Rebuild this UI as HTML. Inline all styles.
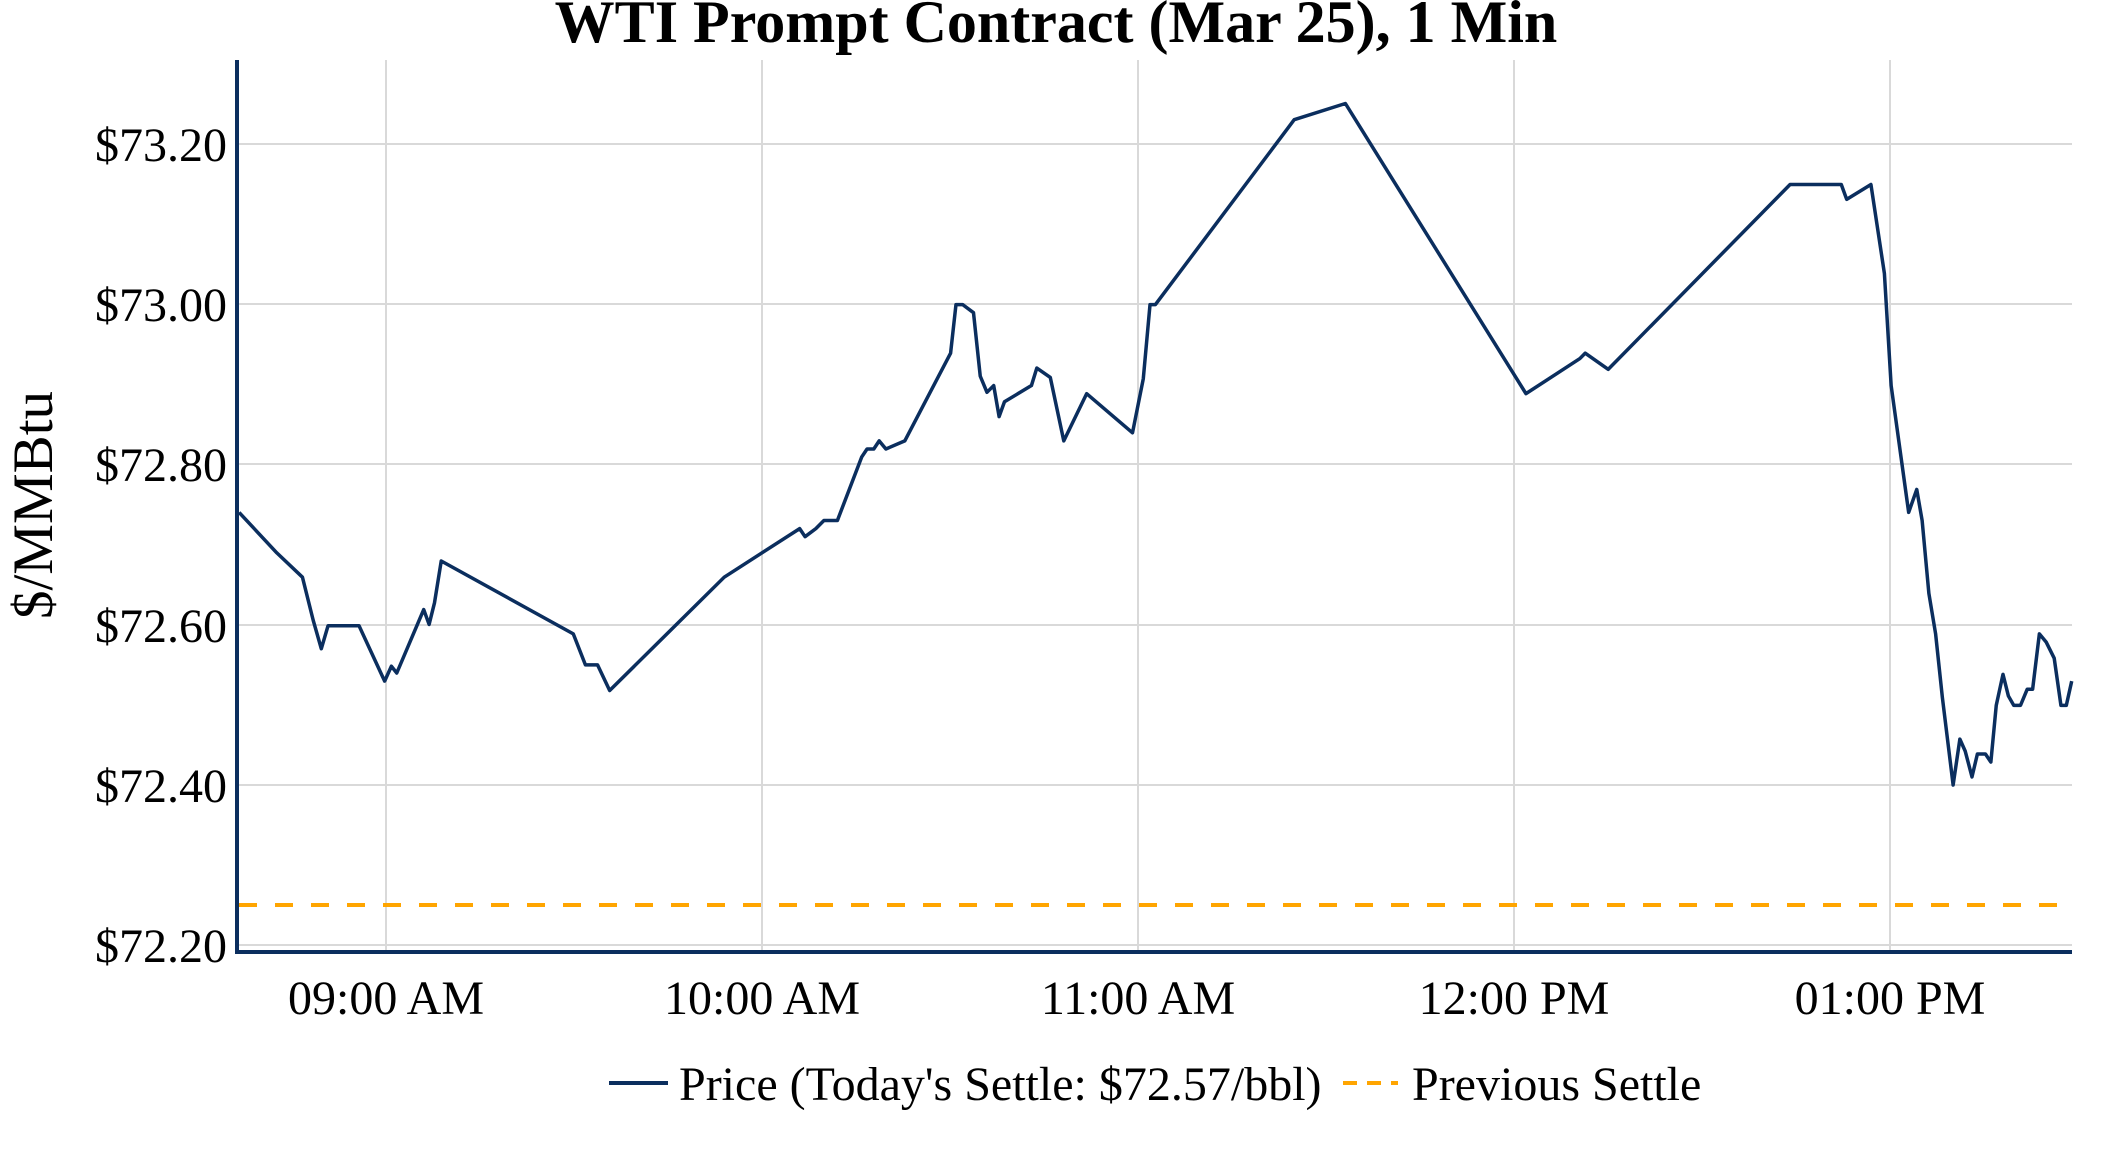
<!DOCTYPE html>
<html><head><meta charset="utf-8"><style>
html,body{margin:0;padding:0;background:#fff;}
svg{display:block;}
text{font-family:"Liberation Serif",serif;fill:#000;}
</style></head><body>
<svg width="2112" height="1152" viewBox="0 0 2112 1152" xmlns="http://www.w3.org/2000/svg">
<text x="1056" y="42" text-anchor="middle" font-size="60" font-weight="bold">WTI Prompt Contract (Mar 25), 1 Min</text>
<g stroke="#d9d9d9" stroke-width="2">
<line x1="237" x2="2072" y1="144" y2="144"/><line x1="237" x2="2072" y1="304" y2="304"/><line x1="237" x2="2072" y1="464" y2="464"/><line x1="237" x2="2072" y1="625" y2="625"/><line x1="237" x2="2072" y1="785" y2="785"/><line x1="237" x2="2072" y1="945" y2="945"/>
<line x1="386" x2="386" y1="60" y2="952"/><line x1="762" x2="762" y1="60" y2="952"/><line x1="1138" x2="1138" y1="60" y2="952"/><line x1="1514" x2="1514" y1="60" y2="952"/><line x1="1890" x2="1890" y1="60" y2="952"/>
</g>
<line x1="239" x2="2058" y1="905" y2="905" stroke="#ffa500" stroke-width="4" stroke-dasharray="18,18"/>
<g transform="translate(0.6,-0.4) scale(1.3475,1.3495)">
<polyline fill="none" stroke="#0b2e5e" stroke-width="3.5" vector-effect="non-scaling-stroke" stroke-linejoin="round" points="177,380 205,410 224,428 232,460 238,481 243,464 266,464 285,505 290,494 294,499 314,452 318,463 322,447 327,416 425,470 434,493 443,493 452,512 537,428 593,392 597,398 605,392 611,386 621,386 639,339 643,333 648,333 652,327 657,333 671,327 705,262 709,226 714,226 722,232 727,279 732,291 737,286 741,309 745,298 765,286 769,273 779,280 789,327 806,292 840,321 848,281 853,226 857,226 960,89 998,77 1132,292 1172,266 1176,262 1193,274 1328,137 1366,137 1370,148 1388,137 1398,203 1403,286 1416,380 1422,363 1426,386 1431,440 1436,470 1441,517 1449,582 1454,548 1458,557 1463,576 1467,559 1473,559 1477,565 1481,523 1486,500 1490,516 1494,523 1499,523 1504,511 1508,511 1513,470 1518,476 1524,488 1529,523 1533,523 1537,505"/>
</g>
<line x1="237" x2="237" y1="60" y2="954" stroke="#0b2e5e" stroke-width="4"/>
<line x1="235" x2="2072" y1="952" y2="952" stroke="#0b2e5e" stroke-width="4"/>
<g font-size="48" text-anchor="end">
<text x="227" y="161">$73.20</text><text x="227" y="321">$73.00</text><text x="227" y="481">$72.80</text><text x="227" y="642">$72.60</text><text x="227" y="802">$72.40</text><text x="227" y="962">$72.20</text>
</g>
<g font-size="48" text-anchor="middle">
<text x="386" y="1014">09:00 AM</text><text x="762" y="1014">10:00 AM</text><text x="1138" y="1014">11:00 AM</text><text x="1514" y="1014">12:00 PM</text><text x="1890" y="1014">01:00 PM</text>
</g>
<text transform="translate(52,505) rotate(-90)" font-size="57" text-anchor="middle">$/MMBtu</text>
<line x1="609" x2="668" y1="1083" y2="1083" stroke="#0b2e5e" stroke-width="4"/>
<text x="679" y="1100" font-size="48">Price (Today's Settle: $72.57/bbl)</text>
<line x1="1343" x2="1398" y1="1083" y2="1083" stroke="#ffa500" stroke-width="4" stroke-dasharray="14,10"/>
<text x="1412" y="1100" font-size="48">Previous Settle</text>
</svg>
</body></html>
